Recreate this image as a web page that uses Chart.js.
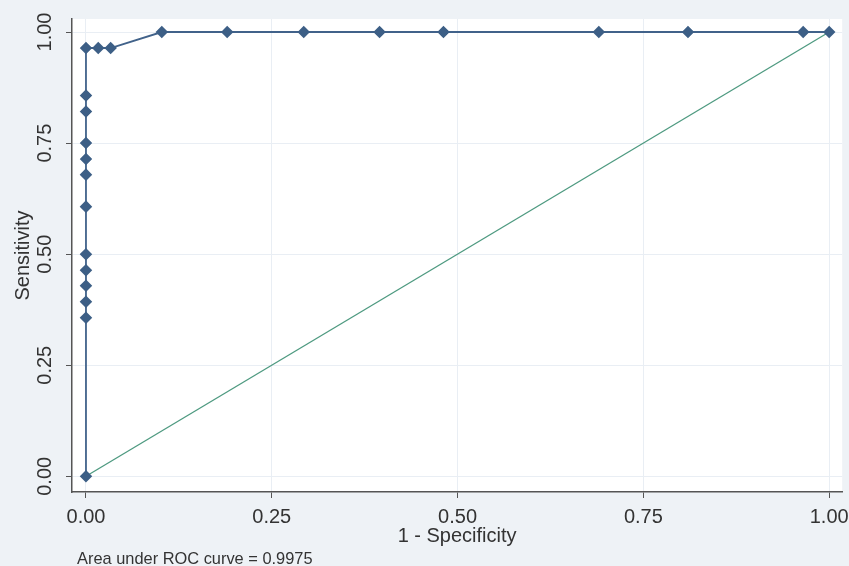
<!DOCTYPE html>
<html>
<head>
<meta charset="utf-8">
<title>ROC curve</title>
<script src="https://cdn.jsdelivr.net/npm/chart.js@4.4.1/dist/chart.umd.min.js"></script>
<style>
    body { margin: 0; background: #eef2f6; }
    #roc { display: block; }
</style>
</head>
<body>
<canvas id="roc" width="849" height="566"></canvas>
<script>
// 1 - specificity / sensitivity pairs
const fpr = [0, 0, 0, 0, 0, 0, 0, 0, 0, 0, 0, 0, 0,
             0.0165, 0.0332, 0.102, 0.19, 0.293, 0.395, 0.481, 0.69, 0.81, 0.965, 1];
const tpr = [0, 0.357, 0.393, 0.429, 0.464, 0.5, 0.607, 0.679, 0.714, 0.75, 0.821, 0.857, 0.964,
             0.964, 0.964, 1, 1, 1, 1, 1, 1, 1, 1, 1];
const refX = [0, 1];
const refY = [0, 1];
const tickVals = [0, 0.25, 0.5, 0.75, 1];
const aucNote = "Area under ROC curve = 0.9975";

const rocPts = fpr.map((x, i) => ({x: x, y: tpr[i]}));
const refPts = refX.map((x, i) => ({x: x, y: refY[i]}));

const axisFont = {family: "'Liberation Sans', Arial, sans-serif", size: 20};

const plotBg = {
    id: 'plotBg',
    beforeDraw(chart) {
        const a = chart.chartArea, ctx = chart.ctx;
        ctx.save();
        ctx.fillStyle = '#ffffff';
        ctx.fillRect(a.left, a.top, a.right - a.left, a.bottom - a.top);
        ctx.restore();
    },
    afterDraw(chart) {
        const ctx = chart.ctx;
        ctx.save();
        ctx.font = "16.4px 'Liberation Sans', Arial, sans-serif";
        ctx.fillStyle = '#333';
        ctx.textBaseline = 'middle';
        ctx.fillText(aucNote, 77, 559);
        ctx.restore();
    }
};

new Chart(document.getElementById('roc'), {
    type: 'scatter',
    data: {
        datasets: [
            {
                data: refPts,
                showLine: true,
                borderColor: '#4e9a80',
                borderWidth: 1.3,
                pointRadius: 0,
                order: 2
            },
            {
                data: rocPts,
                showLine: true,
                borderColor: '#41628a',
                borderWidth: 1.8,
                pointStyle: 'rectRot',
                pointRadius: 5,
                pointBackgroundColor: '#3d5f86',
                pointBorderColor: '#3d5f86',
                order: 1
            }
        ]
    },
    options: {
        responsive: false,
        animation: false,
        layout: {padding: {top: 19, right: 6, left: 0, bottom: 0}},
        plugins: {legend: {display: false}, tooltip: {enabled: false}},
        scales: {
            x: {
                type: 'linear',
                min: -0.0188,
                max: 1.0175,
                afterBuildTicks(scale) { scale.ticks = tickVals.map(v => ({value: v})); },
                afterFit(scale) {
                    scale.height = 74;
                    scale.paddingLeft = 0;
                    scale.paddingRight = 0;
                },
                ticks: {
                    font: axisFont,
                    color: '#333',
                    padding: 7,
                    callback: v => v.toFixed(2)
                },
                grid: {color: '#e9eef4', tickColor: '#555', tickLength: 6},
                border: {color: '#555', width: 1.5},
                title: {display: true, text: '1 - Specificity', font: axisFont, color: '#333', padding: {top: 0, bottom: 18}}
            },
            y: {
                type: 'linear',
                min: -0.0353,
                max: 1.0293,
                afterBuildTicks(scale) { scale.ticks = tickVals.map(v => ({value: v})); },
                afterFit(scale) {
                    scale.width = 72;
                    scale.paddingTop = 0;
                    scale.paddingBottom = 0;
                },
                ticks: {
                    font: axisFont,
                    color: '#333',
                    padding: 1,
                    minRotation: 90,
                    maxRotation: 90,
                    crossAlign: 'center',
                    callback: v => v.toFixed(2)
                },
                grid: {color: '#e9eef4', tickColor: '#555', tickLength: 6},
                border: {color: '#555', width: 1.5},
                title: {display: true, text: 'Sensitivity', font: axisFont, color: '#333', padding: {top: 11, bottom: 0}}
            }
        }
    },
    plugins: [plotBg]
});
</script>
</body>
</html>
